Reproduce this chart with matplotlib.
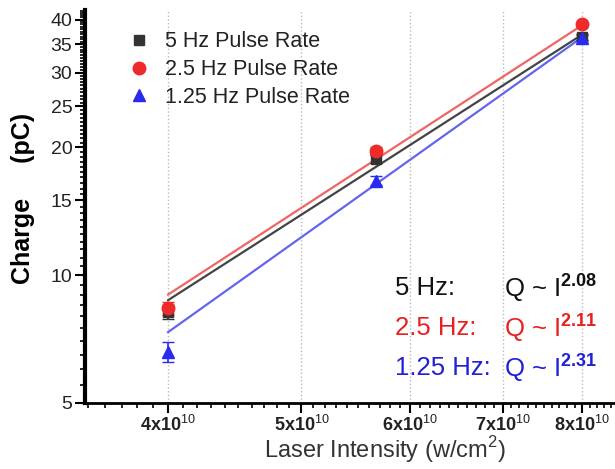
import numpy as np
import matplotlib
matplotlib.use("Agg")
import matplotlib.pyplot as plt
from matplotlib.ticker import FixedLocator, NullFormatter

plt.rcParams['font.family'] = ['Liberation Sans', 'DejaVu Sans']
plt.rcParams['mathtext.fontset'] = 'custom'
plt.rcParams['mathtext.rm'] = 'Liberation Sans'
plt.rcParams['mathtext.bf'] = 'Liberation Sans:bold'

# data
intensity = np.array([4.0e10, 5.66e10, 8.0e10])
q_5hz = np.array([8.2, 18.8, 36.5])
q_25hz = np.array([8.35, 19.6, 39.0])
q_125hz = np.array([6.6, 16.7, 36.3])
err_5hz = np.array([0.3, 0.4, 0.6])
err_25hz = np.array([0.3, 0.4, 0.6])
err_125hz = np.array([0.35, 0.4, 0.6])

# power-law fits: Q at 4e10 and exponent
fit_q0 = [8.73, 9.0, 7.34]
fit_n = [2.08, 2.11, 2.31]

labels = ["5 Hz Pulse Rate", "2.5 Hz Pulse Rate", "1.25 Hz Pulse Rate"]
rate_labels = ["5 Hz:", "2.5 Hz:", "1.25 Hz:"]
exps = ["2.08", "2.11", "2.31"]
xtick_vals = [4e10, 5e10, 6e10, 7e10, 8e10]
xtick_labels = ["4x10$^{10}$", "5x10$^{10}$", "6x10$^{10}$", "7x10$^{10}$", "8x10$^{10}$"]
ytick_vals = [5, 10, 15, 20, 25, 30, 35, 40]

marker_colors = ["#333333", "#ee2a2a", "#2a2aee"]
line_colors = ["#444444", "#f06464", "#6464f0"]
text_colors = ["#111111", "#e82020", "#2020d8"]
markers = ["s", "o", "^"]
msizes = [7, 9, 9]

fig = plt.figure(figsize=(6.15, 4.69), dpi=100)
ax = fig.add_axes([0.138, 0.141, 0.862, 0.838])

series = [q_5hz, q_25hz, q_125hz]
errs = [err_5hz, err_25hz, err_125hz]

xfit = np.array([intensity[0], intensity[-1]])
for i in range(3):
    yfit = fit_q0[i] * (xfit / intensity[0]) ** fit_n[i]
    ax.plot(xfit, yfit, color=line_colors[i], lw=1.6, zorder=2)

for i in range(3):
    ax.errorbar(intensity, series[i], yerr=errs[i], fmt='none',
                ecolor=marker_colors[i], capsize=4, elinewidth=1.2, zorder=3)
    ax.plot(intensity, series[i], linestyle='none', marker=markers[i],
            ms=msizes[i], color=marker_colors[i], label=labels[i], zorder=4)

ax.set_xscale('log')
ax.set_yscale('log')
ax.set_xlim(3.48e10, 8.45e10)
ax.set_ylim(5, 42.2)

ax.xaxis.set_major_locator(FixedLocator(xtick_vals))
ax.set_xticklabels(xtick_labels, fontsize=13, fontweight='bold', color='#222222')
ax.xaxis.set_minor_locator(FixedLocator(np.arange(3.5e10, 8.45e10, 1e9)))
ax.xaxis.set_minor_formatter(NullFormatter())

ax.yaxis.set_major_locator(FixedLocator(ytick_vals))
ax.set_yticklabels([str(v) for v in ytick_vals], fontsize=14, color='#222222')
ax.yaxis.set_minor_locator(FixedLocator(np.arange(5, 42.5, 0.5)))
ax.yaxis.set_minor_formatter(NullFormatter())

ax.tick_params(which='major', direction='out', length=7, width=1.5, pad=2)
ax.tick_params(which='minor', direction='out', length=3.5, width=1.2)

for s in ['top', 'right']:
    ax.spines[s].set_visible(False)
ax.spines['left'].set_linewidth(3)
ax.spines['bottom'].set_linewidth(2)

ax.grid(axis='x', which='major', linestyle=':', color='#bbbbbb', lw=1)

ax.set_xlabel("Laser Intensity (w/cm$^2$)", fontsize=17, color='#333333')
ax.xaxis.set_label_coords(0.566, -0.08)
ax.set_ylabel("Charge     (pC)", fontsize=18, fontweight='bold')
ax.yaxis.set_label_coords(-0.095, 0.52)

ax.legend(loc='upper left', bbox_to_anchor=(0.045, 0.995), frameon=False,
          fontsize=15.5, handletextpad=0.7, labelspacing=0.32,
          handlelength=1.0, labelcolor='#222222')

row_y = [0.293, 0.191, 0.089]
for i in range(3):
    ax.text(0.585, row_y[i], rate_labels[i], transform=ax.transAxes,
            fontsize=18.5, color=text_colors[i], va='center')
    ax.text(0.79, row_y[i], "Q ~ I$^{\\mathbf{" + exps[i] + "}}$",
            transform=ax.transAxes, fontsize=18.5, color=text_colors[i], va='center')

fig.savefig("out.png", dpi=100)
